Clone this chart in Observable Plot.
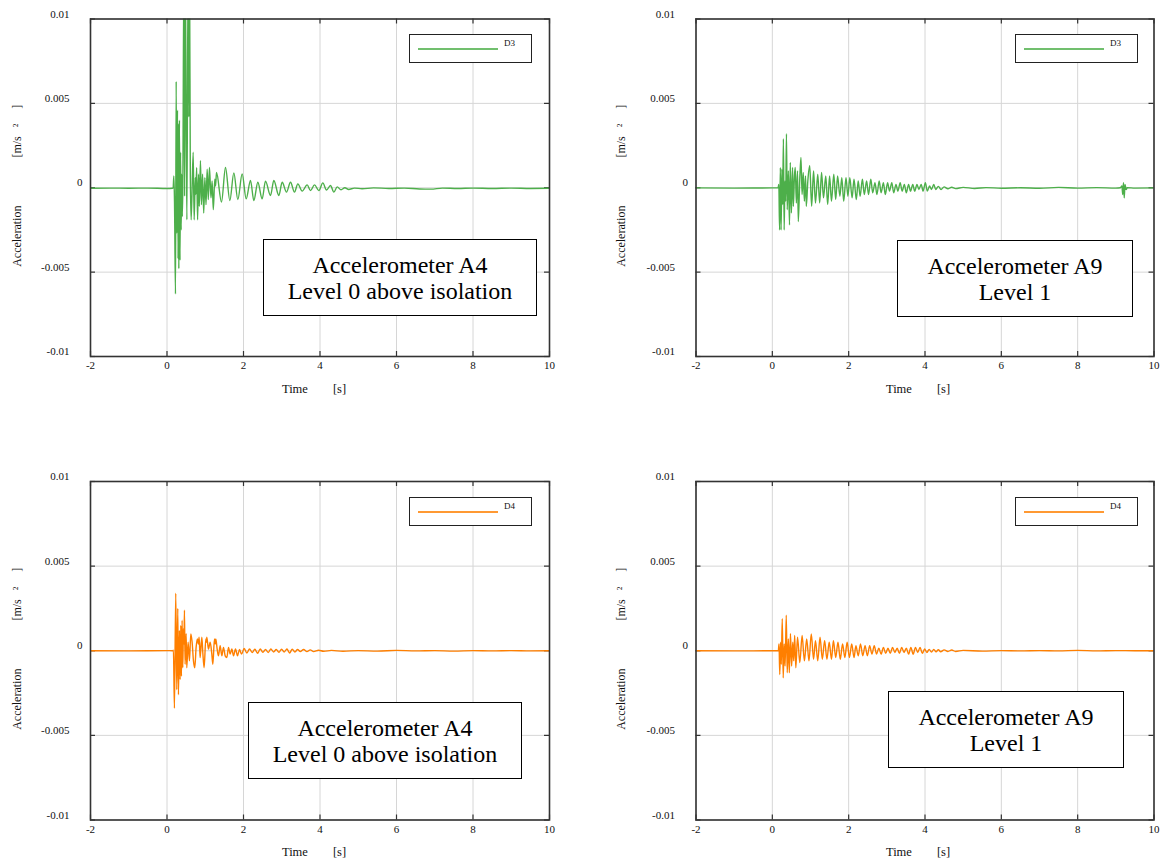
<!DOCTYPE html>
<html><head><meta charset="utf-8">
<script src="https://cdn.jsdelivr.net/npm/d3@7"></script>
<script src="https://cdn.jsdelivr.net/npm/@observablehq/plot@0.6"></script>
<style>
body{margin:0;background:#fff;}
#root{position:relative;width:1162px;height:864px;overflow:hidden;font-family:'Liberation Serif','DejaVu Serif',serif;color:#111;}
.panel{position:absolute;}
.panel svg{overflow:visible;}
.panel svg text{white-space:pre;}
.legend{position:absolute;border:1px solid #222;background:#fff;box-sizing:border-box;width:123px;height:29px;font-family:'Liberation Serif','DejaVu Serif',serif;}
.legend .ln{position:absolute;left:8px;top:13px;width:80px;height:0;border-top:2px solid;opacity:0.8;}
.legend .lb{position:absolute;left:94px;top:3px;font-size:9px;line-height:10px;}
.note{position:absolute;border:1px solid #000;background:#fff;box-sizing:border-box;display:flex;flex-direction:column;justify-content:center;align-items:center;font-family:'Liberation Serif','DejaVu Serif',serif;font-size:24px;line-height:26px;height:77px;color:#000;}
</style></head>
<body><div id="root"></div>
<script>
// ---- data (time [s], acceleration [m/s^2]) ----
const xTicks = [-2, 0, 2, 4, 6, 8, 10];
const yTicks = [-0.01, -0.005, 0, 0.005, 0.01];
const seriesNames = ["D3", "D4"];
const seriesColors = ["#4daf4a", "#ff7f00"];
const noteLines = [["Accelerometer A4", "Level 0 above isolation"], ["Accelerometer A9", "Level 1"]];

const A4_D3 = [[-2,-0.00003],[-1.5,-0.00002],[-1,-0.00003],[-0.5,-0.00002],[0,-0.00004],[0.14,-0.00003],
[0.161,0],[0.179,0.0007],[0.196,-0.0008],[0.222,-0.0063],[0.24,0.0063],[0.257,-0.0027],[0.274,0.0046],[0.29,-0.0042],[0.30,0.0038],[0.309,-0.0048],[0.325,0.0040],[0.34,-0.0043],[0.355,0.0021],[0.37,-0.0025],[0.385,0.0008],[0.40,-0.0017],[0.415,0.0004],[0.44,0.0125],[0.46,-0.0005],[0.48,0.0125],[0.50,0.0047],[0.52,-0.0019],[0.55,0.0125],[0.57,0.0042],[0.59,0.0125],[0.61,0.0006],[0.632,-0.0019],[0.684,0.0021],[0.71,-0.0019],[0.74,0.0006],[0.755,-0.0004],[0.775,0.0012],[0.80,-0.0019],[0.825,0.0008],[0.845,-0.0011],[0.875,0.0016],[0.90,-0.0010],[0.93,0.0008],[0.96,-0.0015],[0.99,0.0006],[1.02,-0.0010],[1.05,0.0011],[1.08,-0.0007],[1.11,0.0012],[1.15,-0.0006],[1.18,0.0004],[1.21,-0.0013],[1.25,0.0005],[1.27,0.0001],[1.294,0.0009],[1.425,-0.00085],[1.529,0.0012],[1.643,-0.00076],[1.747,0.00088],[1.852,-0.0007],[1.965,0.00082],[2.07,-0.00066],[2.183,0.00043],[2.27,-0.00076],[2.375,0.00033],[2.488,-0.00066],[2.575,0.00039],[2.706,-0.00046],[2.793,0.00043],[2.924,-0.00046],[3.011,0.00033],[3.124,-0.00026],[3.229,0.00033],[3.333,-0.00026],[3.42,0.00023],[3.534,-0.0002],[3.664,0.00017],[3.752,-0.00017],[3.856,0.00017],[3.97,-0.00017],[4.074,0.00029],[4.17,-0.00013],[4.274,0.00013],[4.362,-0.00026],[4.45,0.00005],[4.55,-0.00012],[4.65,0],[4.75,-0.0001],[4.9,-0.00002],[5.1,-0.00006],[5.4,-0.00001],[5.8,-0.00004],[6.2,-0.00002],[6.6,-0.00007],[6.9,-0.00008],[7.2,-0.00002],[7.6,-0.00004],[8.0,-0.00002],[8.5,-0.00004],[9.0,-0.00002],[9.5,-0.00004],[10,-0.00003]];

const A9_D3 = [[-2,-0.00001],[-1,-0.00002],[0,-0.00001],[0.15,-0.00001],
[0.17,0.0002],[0.19,-0.0025],[0.21,0.0012],[0.23,-0.0025],[0.25,0.0011],[0.27,-0.0010],[0.29,0.0029],[0.31,-0.0025],[0.33,0.0004],[0.35,-0.0008],[0.37,0.0032],[0.39,-0.0013],[0.42,0.0010],[0.45,-0.0022],[0.47,0.0015],[0.50,-0.0015],[0.53,0.0012],[0.55,-0.0011],[0.58,0.0007],[0.60,0.0012],[0.63,-0.0009],[0.66,0.0010],[0.68,-0.0020],[0.72,0.0006],[0.75,0.0018],[0.78,-0.0004],[0.81,0.0009],[0.84,-0.0008],[0.87,0.0007],[0.89,-0.0011],[0.93,0.0004],[0.98,0.0013],[1.03,-0.0011],[1.08,0.0010],[1.13,-0.0009],[1.19,0.0008],[1.24,-0.0009],[1.29,0.0009],[1.34,-0.0006],[1.40,0.0007],[1.45,-0.0010],[1.50,0.0007],[1.55,-0.0008],[1.61,0.0008],[1.66,-0.0007],[1.71,0.0007],[1.77,-0.0005],[1.82,0.0006],[1.87,-0.0008],[1.93,0.0006],[1.98,-0.0005],[2.03,0.0006],[2.09,-0.0006],[2.14,0.0005],[2.20,-0.0007],[2.25,0.0004],[2.30,-0.0005],[2.36,0.0005],[2.41,-0.0004],[2.47,0.0004],[2.52,-0.0004],[2.58,0.0005],[2.63,-0.0003],[2.69,0.0003],[2.74,-0.0004],[2.80,0.0004],[2.85,-0.0003],[2.91,0.0003],[2.96,-0.0004],[3.02,0.0003],[3.07,-0.0002],[3.13,0.0003],[3.18,-0.0003],[3.24,0.0002],[3.29,-0.0002],[3.35,0.0003],[3.40,-0.0002],[3.46,0.0002],[3.51,-0.0003],[3.57,0.0002],[3.62,-0.0002],[3.68,0.0002],[3.73,-0.0002],[3.79,0.0002],[3.84,-0.0001],[3.90,0.0002],[3.95,-0.0002],[4.01,0.0003],[4.06,-0.0002],[4.12,0.0001],[4.17,-0.0001],[4.23,0.0002],[4.28,-0.0001],[4.35,0.00008],[4.42,-0.0001],[4.50,0.00005],[4.6,-0.00006],[4.7,0.00003],[4.8,-0.00005],[5.0,0.00002],[5.3,-0.00004],[5.6,0.00001],[6.0,-0.00003],[6.5,0],[7,-0.00003],[7.5,0.00002],[8,-0.00002],[8.5,0.00001],[9.0,-0.00002],[9.12,0],[9.16,0.0001],[9.18,-0.0004],[9.20,0.0003],[9.22,-0.0006],[9.24,0.0002],[9.27,-0.0001],[9.30,0],[9.5,-0.00002],[10,-0.00001]];

const A4_D4 = [[-2,0],[-1,-0.00001],[0,0.00001],[0.142,0],
[0.168,0.00003],[0.194,-0.0034],[0.229,0.0034],[0.255,-0.0023],[0.282,0.0025],[0.299,-0.0026],[0.325,0.0012],[0.343,-0.0017],[0.36,0.0015],[0.377,-0.0015],[0.395,0.0018],[0.412,-0.0010],[0.43,0.0013],[0.445,0.0004],[0.456,0.0024],[0.473,-0.0008],[0.50,0.0010],[0.517,-0.0010],[0.552,0.0005],[0.587,-0.0006],[0.622,0.0010],[0.657,0.0005],[0.692,-0.0006],[0.727,-0.0010],[0.761,0.0002],[0.796,0.0007],[0.82,0.0004],[0.84,0.0008],[0.866,-0.0004],[0.91,0.0008],[0.936,-0.0001],[0.971,-0.0010],[1.014,0.0007],[1.03,0.0005],[1.041,0.0008],[1.084,0.0001],[1.128,0.0005],[1.172,-0.0002],[1.198,-0.0008],[1.241,0.0007],[1.26,0.0004],[1.276,0.0007],[1.311,0.0001],[1.346,-0.0003],[1.39,0.0003],[1.433,-0.0003],[1.477,0.0002],[1.521,-0.0003],[1.564,-0.0004],[1.608,0.0002],[1.651,-0.0002],[1.695,0.0001],[1.739,-0.0003],[1.791,0.0001],[1.843,-0.0003],[1.896,0.00007],[1.948,-0.0002],[2.018,0.00013],[2.088,-0.00013],[2.158,0.0001],[2.227,-0.0001],[2.297,0.00009],[2.367,-0.00015],[2.437,0.0001],[2.507,-0.00009],[2.576,0.00007],[2.646,-0.0001],[2.716,0.0001],[2.786,-0.00007],[2.856,0.00007],[2.926,-0.00009],[2.995,0.00009],[3.065,-0.00007],[3.135,0.0001],[3.205,-0.00013],[3.275,0.00009],[3.344,-0.00007],[3.414,0.00007],[3.484,-0.00005],[3.571,0.00007],[3.659,-0.00005],[3.746,0.00005],[3.833,-0.00005],[3.964,0.00003],[4.095,-0.00003],[4.3,0.00002],[4.6,-0.00003],[5.0,0.00001],[5.5,-0.00002],[6.0,0.00002],[6.5,-0.00001],[7.0,0.00001],[7.5,-0.00002],[8.0,0.00001],[8.5,-0.00001],[9.0,0.00001],[9.5,-0.00001],[10,0]];

const A9_D4 = [[-2,0],[-1,-0.00001],[0,0],[0.157,0],
[0.175,0.0004],[0.195,-0.0014],[0.215,0.0005],[0.235,-0.0008],[0.26,0.0019],[0.285,-0.0016],[0.31,0.0004],[0.335,-0.0009],[0.365,0.0021],[0.39,-0.0013],[0.42,0.0007],[0.445,-0.0013],[0.475,0.0010],[0.505,-0.0009],[0.535,0.0005],[0.56,-0.0006],[0.585,0.0009],[0.615,-0.0010],[0.66,0.0008],[0.72,-0.0007],[0.78,0.0009],[0.84,-0.0006],[0.90,0.0007],[0.96,-0.0006],[1.02,0.0010],[1.08,-0.0005],[1.13,0.0006],[1.19,-0.0006],[1.25,0.0008],[1.31,-0.0005],[1.37,0.0006],[1.43,-0.0005],[1.49,0.0005],[1.55,-0.0005],[1.60,0.0006],[1.66,-0.0004],[1.72,0.0005],[1.78,-0.0005],[1.84,0.0004],[1.90,-0.0004],[1.96,0.0005],[2.02,-0.0004],[2.08,0.0004],[2.14,-0.0004],[2.19,0.0003],[2.25,-0.0003],[2.31,0.0004],[2.37,-0.0003],[2.43,0.0003],[2.49,-0.0003],[2.55,0.0003],[2.61,-0.0002],[2.67,0.0003],[2.73,-0.0002],[2.79,0.00015],[2.85,-0.0002],[2.91,0.0002],[2.97,-0.00015],[3.03,0.00015],[3.09,-0.00015],[3.15,0.0002],[3.21,-0.0001],[3.27,0.00015],[3.33,-0.00015],[3.39,0.0002],[3.45,-0.0001],[3.51,0.00015],[3.57,-0.0002],[3.63,0.0002],[3.69,-0.0002],[3.75,0.0002],[3.81,-0.0001],[3.87,0.0002],[3.93,-0.00015],[3.99,0.0001],[4.05,-0.0001],[4.11,0.00008],[4.17,-0.00008],[4.23,0.00008],[4.29,-0.00006],[4.35,0.00006],[4.41,-0.00006],[4.5,0.00005],[4.6,-0.00004],[4.7,0.00004],[4.8,-0.00004],[5.0,0.00002],[5.5,-0.00002],[6.0,0.00001],[6.5,-0.00001],[7.0,0.00001],[7.5,-0.00001],[8.0,0.00002],[8.5,-0.00001],[9.0,0.00001],[9.5,0],[10,0]];

const xLabel = "Time        [s]";
const yLabel = "Acceleration                [m/s   ²     ]";

// ---- layout ----
const panels = [
  {data: A4_D3, s: 0, n: 0, left: 0,   top: 0,   width: 560, ml: 90,   pw: 459, mt: 18.5, ph: 337.5, legend: [409, 34], note: [263, 239, 274], xdx: -6, ydx: -73},
  {data: A9_D3, s: 0, n: 1, left: 600, top: 0,   width: 562, ml: 95.5, pw: 458, mt: 18.5, ph: 337.5, legend: [415, 34], note: [297, 240, 236], xdx: -7, ydx: -74.5},
  {data: A4_D4, s: 1, n: 0, left: 0,   top: 462, width: 560, ml: 90,   pw: 459, mt: 19,   ph: 338.5, legend: [409, 35], note: [248, 240, 274], xdx: -6, ydx: -73},
  {data: A9_D4, s: 1, n: 1, left: 600, top: 462, width: 562, ml: 95.5, pw: 458, mt: 19,   ph: 338.5, legend: [415, 35], note: [288, 229, 236], xdx: -7, ydx: -74.5}
];

const root = document.getElementById("root");
for (const p of panels) {
  const rows = p.data.map(([t, v]) => ({t, v}));
  const MB = 45;
  const H = p.mt + p.ph + MB;
  const frameColor = "#333";
  const chart = Plot.plot({
    width: p.width, height: H,
    marginLeft: p.ml, marginRight: p.width - p.ml - p.pw, marginTop: p.mt, marginBottom: MB,
    style: {fontFamily: "'Liberation Serif', 'DejaVu Serif', serif", fontSize: "11px", color: "#111", background: "transparent"},
    x: {domain: [-2, 10]},
    y: {domain: [-0.01, 0.01]},
    marks: [
      Plot.gridX(xTicks, {stroke: "#d6d6d6", strokeOpacity: 1, strokeWidth: 1}),
      Plot.gridY(yTicks, {stroke: "#d6d6d6", strokeOpacity: 1, strokeWidth: 1}),
      Plot.axisX(xTicks, {tickSize: 0, tickPadding: 5, tickFormat: d => String(d), label: null}),
      Plot.axisY(yTicks.filter(d => d !== 0), {tickSize: 0, tickPadding: 21, dy: -5, tickFormat: d => String(d), label: null}),
      Plot.axisY([0], {tickSize: 0, tickPadding: 8, dy: -5, tickFormat: () => "0", label: null}),
      Plot.tickX(xTicks, {x: d => d, insetTop: p.ph - 5, stroke: frameColor, strokeWidth: 1.2}),
      Plot.tickX(xTicks, {x: d => d, insetBottom: p.ph - 5, stroke: frameColor, strokeWidth: 1.2}),
      Plot.tickY(yTicks, {y: d => d, insetRight: p.pw - 5, stroke: frameColor, strokeWidth: 1.2}),
      Plot.tickY(yTicks, {y: d => d, insetLeft: p.pw - 5, stroke: frameColor, strokeWidth: 1.2}),
      Plot.line(rows, {x: "t", y: "v", stroke: seriesColors[p.s], strokeWidth: 1.4, curve: "monotone-x", clip: true}),
      Plot.frame({stroke: frameColor, strokeWidth: 1.6}),
      Plot.text([xLabel], {text: d => d, frameAnchor: "bottom", textAnchor: "middle", dy: 36, dx: p.xdx, fontSize: 12.5}),
      Plot.text([yLabel], {text: d => d, frameAnchor: "left", textAnchor: "middle", rotate: -90, dx: p.ydx, dy: -2, fontSize: 12})
    ]
  });
  const div = document.createElement("div");
  div.className = "panel";
  div.style.left = p.left + "px";
  div.style.top = p.top + "px";
  div.style.width = p.width + "px";
  div.style.height = H + "px";
  div.appendChild(chart);

  const lg = document.createElement("div");
  lg.className = "legend";
  lg.style.left = p.legend[0] + "px";
  lg.style.top = p.legend[1] + "px";
  const ln = document.createElement("div");
  ln.className = "ln";
  ln.style.borderTopColor = seriesColors[p.s];
  const lb = document.createElement("div");
  lb.className = "lb";
  lb.textContent = seriesNames[p.s];
  lg.appendChild(ln); lg.appendChild(lb);
  div.appendChild(lg);

  const nt = document.createElement("div");
  nt.className = "note";
  nt.style.left = p.note[0] + "px";
  nt.style.top = p.note[1] + "px";
  nt.style.width = p.note[2] + "px";
  for (const line of noteLines[p.n]) {
    const s = document.createElement("div");
    s.textContent = line;
    nt.appendChild(s);
  }
  div.appendChild(nt);
  root.appendChild(div);
}
</script>
</body></html>
